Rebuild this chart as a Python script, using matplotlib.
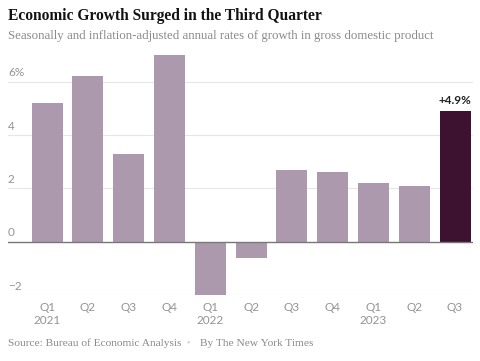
import matplotlib.pyplot as plt

quarters = ['Q1', 'Q2', 'Q3', 'Q4', 'Q1', 'Q2', 'Q3', 'Q4', 'Q1', 'Q2', 'Q3']
years = ['2021', '', '', '', '2022', '', '', '', '2023', '', '']
growth = [5.2, 6.2, 3.3, 7.0, -2.0, -0.6, 2.7, 2.6, 2.2, 2.1, 4.9]
yticks = [-2, 0, 2, 4, 6]
ytick_labels = ['\u22122', '0', '2', '4', '6%']

light = '#ad99ae'
dark = '#3d1231'
serif = ['Liberation Serif', 'DejaVu Serif']
sans = ['Lato', 'DejaVu Sans']

fig = plt.figure(figsize=(4.81, 3.61), dpi=100)
ax = fig.add_axes([8 / 481, 66 / 361, 465 / 481, 240 / 361])

x = list(range(len(growth)))
colors = [light] * (len(growth) - 1) + [dark]
ax.bar(x, growth, width=0.76, color=colors, zorder=2, clip_on=False)

ax.set_xlim(-0.96, 10.44)
ax.set_ylim(-2, 7)

for t in yticks:
    if t == 0:
        ax.axhline(t, color='#777777', lw=1.0, zorder=3)
    else:
        ax.axhline(t, color='#e6e6e6', lw=0.8, zorder=1)
for t, lab in zip(yticks, ytick_labels):
    ax.text(-0.96, t + 0.12, lab, ha='left', va='bottom', fontsize=8.5,
            color='#939393', family=sans)

for i, (q, yr) in enumerate(zip(quarters, years)):
    ax.text(i, -2.28, q + ('\n' + yr if yr else ''), ha='center', va='top',
            fontsize=8.5, color='#939393', family=sans, linespacing=1.15)

last = len(growth) - 1
ax.text(last, growth[last] + 0.2, '+%.1f%%' % growth[last], ha='center',
        va='bottom', fontsize=8.5, color='#222222', family=sans,
        fontweight='bold')

ax.set_xticks([])
ax.set_yticks([])
for s in ax.spines.values():
    s.set_visible(False)

fig.text(8 / 481, 1 - 16 / 361, 'Economic Growth Surged in the Third Quarter',
         ha='left', va='center', fontsize=11.2, fontweight='bold',
         color='#121212', family=serif)
fig.text(8 / 481, 1 - 36 / 361,
         'Seasonally and inflation-adjusted annual rates of growth in gross domestic product',
         ha='left', va='center', fontsize=9.3, color='#8a8a8a', family=serif)
fig.text(8 / 481, 1 - 343 / 361, 'Source: Bureau of Economic Analysis',
         ha='left', va='center', fontsize=8.2, color='#8a8a8a', family=serif)
fig.text(188 / 481, 1 - 343 / 361, '\u2022', ha='center', va='center',
         fontsize=7, color='#d0d0d0', family=serif)
fig.text(200 / 481, 1 - 343 / 361, 'By The New York Times',
         ha='left', va='center', fontsize=8.2, color='#8a8a8a', family=serif)

fig.savefig('out.png', dpi=100)
